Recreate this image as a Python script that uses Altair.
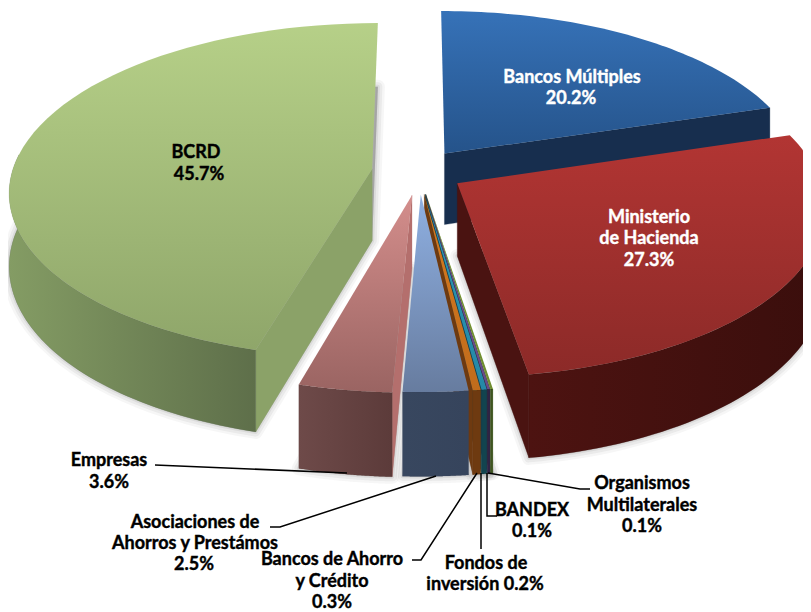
import math
import altair as alt
import pandas as pd

# ---- data ----
slices = ["Bancos Múltiples", "Ministerio de Hacienda", "Organismos Multilaterales", "BANDEX",
          "Fondos de inversión", "Bancos de Ahorro y Crédito", "Asociaciones de Ahorros y Préstamos",
          "Empresas", "BCRD"]
shares = [20.2, 27.3, 0.1, 0.1, 0.2, 0.3, 2.5, 3.6, 45.7]

# top gradient start, top gradient end, cut wall, outer wall left, outer wall right
colours = {
    "Bancos Múltiples": ("#3672b8", "#25538a", "#172e4e", "#172e4e", "#172e4e"),
    "Ministerio de Hacienda": ("#b23533", "#8c2a28", "#4a1311", "#4d1311", "#3a0e0c"),
    "Organismos Multilaterales": ("#7a9a35", "#6f8c2f", "#3f5520", "#3f5520", "#3f5520"),
    "BANDEX": ("#6f5196", "#674a8c", "#2f2345", "#2f2345", "#2f2345"),
    "Fondos de inversión": ("#2a97b6", "#2589a6", "#12444f", "#12444f", "#12444f"),
    "Bancos de Ahorro y Crédito": ("#d97a1f", "#c06c1c", "#6e3a10", "#6e3a10", "#6e3a10"),
    "Asociaciones de Ahorros y Préstamos": ("#8fb0e2", "#677c9f", "#6b7f9f", "#38475f", "#36445c"),
    "Empresas": ("#d48e8c", "#9a6462", "#b46f6d", "#6e4a49", "#5c3b3a"),
    "BCRD": ("#b6d088", "#8fa66a", "#8ba268", "#849c64", "#5e6f4a"),
}

# small horizontal and vertical adjustment of each exploded slice
nudge = {"Bancos Múltiples": (-3, 1), "Ministerio de Hacienda": (-4, 0), "BCRD": (4, 1), "Empresas": (2, 1),
         "Asociaciones de Ahorros y Préstamos": (1, 0)}

label_text = ["BCRD", "45.7%", "Bancos Múltiples", "20.2%", "Ministerio", "de Hacienda", "27.3%",
              "Empresas", "3.6%", "Asociaciones de", "Ahorros y Prestámos", "2.5%",
              "Bancos de Ahorro", "y Crédito", "0.3%", "Fondos de", "inversión 0.2%",
              "BANDEX", "0.1%", "Organismos", "Multilaterales", "0.1%"]
label_x = [196, 199, 572, 571, 649, 649, 649, 109, 109, 195, 195, 194, 332, 332, 332, 486, 485, 532, 532, 642, 642, 642]
label_y = [152, 174, 77, 98, 217, 238, 260, 460, 482, 522, 543, 564, 559, 581, 602, 563, 584, 510, 531, 483, 505, 526]
label_col = ["black", "black", "white", "white", "white", "white", "white"] + ["black"] * 15

leaders = [
    [(155, 465), (347, 473)],
    [(270, 527), (280, 527), (436, 476)],
    [(412, 560), (421, 560), (477, 473)],
    [(481, 549), (481, 473)],
    [(497, 516), (487, 516), (487, 473)],
    [(590, 489), (580, 489), (488, 473)],
]

# ---- projection of the tilted disc ----
M = 8
CX, CY, A, B, K, EXPL, DEPTH = 418, 171, 360, 165.4, 0.129, 0.14, 72


def proj(px, py, down=0.0, nd=(0, 0)):
    f = 1 / (1 + K * py)
    return [CX + A * px * f - M + nd[0], CY - B * py * f + DEPTH * f * down - M + nd[1]]


def rim(off, t, down=0.0, nd=(0, 0)):
    return proj(off[0] + math.sin(t), off[1] + math.cos(t), down, nd)


def arc(off, t0, t1, down=0.0, nd=(0, 0), n=60):
    return [rim(off, t0 + (t1 - t0) * i / n, down, nd) for i in range(n + 1)]


def feature(points):
    return {"type": "Feature", "properties": {},
            "geometry": {"type": "Polygon", "coordinates": [points + [points[0]]]}}


def shape(points, **mark):
    return alt.Chart(alt.InlineData(values=[feature(points)])).mark_geoshape(clip=True, **mark).project(
        type="identity", scale=1, translate=[0, 0])


def grad(c0, c1, horizontal=False):
    return alt.Gradient(gradient="linear",
                        stops=[alt.GradientStop(offset=0, color=c0), alt.GradientStop(offset=1, color=c1)],
                        x1=0, y1=0, x2=1 if horizontal else 0, y2=0 if horizontal else 1)


# ---- build each slice ----
geo = {}
cum = 0.0
for name, share in zip(slices, shares):
    t0 = cum / 100 * 2 * math.pi
    t1 = (cum + share) / 100 * 2 * math.pi
    mid = (t0 + t1) / 2
    geo[name] = (t0, t1, (EXPL * math.sin(mid), EXPL * math.cos(mid)), nudge.get(name, (0, 0)))
    cum += share

order = ["Bancos Múltiples", "BCRD", "Organismos Multilaterales", "BANDEX", "Fondos de inversión",
         "Bancos de Ahorro y Crédito", "Asociaciones de Ahorros y Préstamos", "Empresas",
         "Ministerio de Hacienda"]

layers = []
for name in order:
    t0, t1, off, nd = geo[name]
    floor = [proj(off[0], off[1], 1, nd)] + arc(off, t0, t1, 1, nd)
    if name != "Bancos Múltiples":
        for w, o in ((14, 0.07), (9, 0.10), (4, 0.14)):
            layers.append(shape(floor, fill="#808080", fillOpacity=0.25, stroke="#808080",
                                strokeWidth=w, strokeOpacity=o, strokeJoin="round"))

for name in order:
    t0, t1, off, nd = geo[name]
    top0, top1, cut, wl, wr = colours[name]
    apex = proj(off[0], off[1], 0, nd)
    apex_d = proj(off[0], off[1], 1, nd)
    if math.sin(t0) < 0:
        layers.append(shape([apex, rim(off, t0, 0, nd), rim(off, t0, 1, nd), apex_d],
                            fill=cut, stroke=cut, strokeWidth=0.3))
    if math.sin(t1) > 0.001:
        layers.append(shape([apex, rim(off, t1, 0, nd), rim(off, t1, 1, nd), apex_d],
                            fill=cut, stroke=cut, strokeWidth=0.3))
    a0, a1 = max(t0, math.radians(85)), min(t1, math.radians(275))
    if a1 > a0:
        layers.append(shape(arc(off, a0, a1, 0, nd) + arc(off, a1, a0, 1, nd),
                            fill=grad(wl, wr, True), stroke=wr, strokeWidth=0.2))
    layers.append(shape([apex] + arc(off, t0, t1, 0, nd), fill=grad(top0, top1), strokeWidth=0))

# ---- leaders and labels ----
rows = [{"x": x - M, "y": y - M, "g": i, "o": j}
        for i, line in enumerate(leaders) for j, (x, y) in enumerate(line)]
lead = alt.Chart(pd.DataFrame(rows)).mark_line(color="black", strokeWidth=1.5).encode(
    x=alt.X("x:Q", scale=None), y=alt.Y("y:Q", scale=None), detail="g:N", order="o:Q")

lab = pd.DataFrame({"t": label_text, "x": [v - M for v in label_x], "y": [v - M for v in label_y], "c": label_col})
text = alt.Chart(lab).mark_text(font="Lato", fontWeight="bold", fontSize=18, strokeWidth=0.4, dy=1,
                                align="center", baseline="middle").encode(
    x=alt.X("x:Q", scale=None), y=alt.Y("y:Q", scale=None), text="t:N",
    color=alt.Color("c:N", scale=None), stroke=alt.Stroke("c:N", scale=None))

chart = alt.layer(*layers, lead, text).properties(width=795, height=596, padding=0).configure_view(stroke=None)
chart.save("out.html", embed_options={"renderer": "svg", "actions": False})
